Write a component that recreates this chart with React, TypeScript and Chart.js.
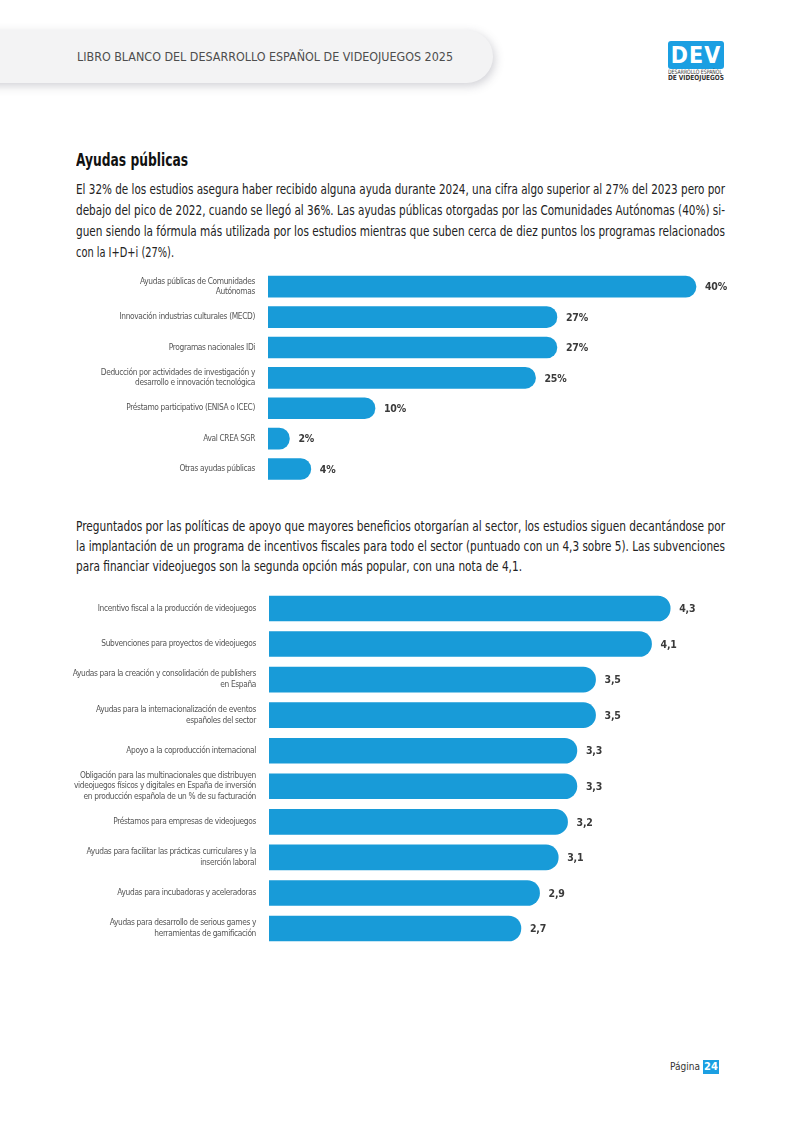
import React, { useEffect, useLayoutEffect, useRef } from "react";
import { Chart, registerables } from "chart.js";

Chart.register(...registerables);

const FONT = "'Liberation Sans Narrow', 'DejaVu Sans Condensed', Roboto, sans-serif";
const BAR_COLOR = "#189bd8";

// ---- Chart 1: Ayudas públicas recibidas (%) ----
const aidCategories: (string | string[])[] = [
  ["Ayudas públicas de Comunidades", "Autónomas"],
  "Innovación industrias culturales (MECD)",
  "Programas nacionales IDi",
  ["Deducción por actividades de investigación y", "desarrollo e innovación tecnológica"],
  "Préstamo participativo (ENISA o ICEC)",
  "Aval CREA SGR",
  "Otras ayudas públicas",
];
const aidValues = [40, 27, 27, 25, 10, 2, 4];

// ---- Chart 2: Políticas de apoyo (nota sobre 5) ----
const policyCategories: (string | string[])[] = [
  "Incentivo fiscal a la producción de videojuegos",
  "Subvenciones para proyectos de videojuegos",
  ["Ayudas para la creación y consolidación de publishers", "en España"],
  ["Ayudas para la internacionalización de eventos", "españoles del sector"],
  "Apoyo a la coproducción internacional",
  [
    "Obligación para las multinacionales que distribuyen",
    "videojuegos físicos y digitales en España de inversión",
    "en producción española de un % de su facturación",
  ],
  "Préstamos para empresas de videojuegos",
  ["Ayudas para facilitar las prácticas curriculares y la", "inserción laboral"],
  "Ayudas para incubadoras y aceleradoras",
  ["Ayudas para desarrollo de serious games y", "herramientas de gamificación"],
];
const policyScores = [4.3, 4.1, 3.5, 3.5, 3.3, 3.3, 3.2, 3.1, 2.9, 2.7];

const fmtPercent = (v: number) => `${v}%`;
const fmtScore = (v: number) => v.toFixed(1).replace(".", ",");

const condensePlugin = {
  id: "condense",
  beforeDraw(chart: any) {
    (chart.ctx as any).letterSpacing = "-0.35px";
  },
};

function makeValueLabelPlugin(fmt: (v: number) => string) {
  return {
    id: "valueLabels",
    afterDatasetsDraw(chart: any) {
      const ctx = chart.ctx;
      const meta = chart.getDatasetMeta(0);
      const data = chart.data.datasets[0].data as number[];
      ctx.save();
      (ctx as any).letterSpacing = "-0.2px";
      ctx.font = `bold 10.5px ${FONT}`;
      ctx.fillStyle = "#3a3a3a";
      ctx.textAlign = "left";
      ctx.textBaseline = "middle";
      meta.data.forEach((bar: any, i: number) => {
        ctx.fillText(fmt(data[i]), bar.x + 9, bar.y + 1);
      });
      ctx.restore();
    },
  };
}

type BarProps = {
  categories: (string | string[])[];
  values: number[];
  top: number;
  height: number;
  padTop: number;
  padBottom: number;
  axisWidth: number;
  max: number;
  padRight: number;
  thickness: number;
  fmt: (v: number) => string;
};

function HBarChart(p: BarProps) {
  const ref = useRef<HTMLCanvasElement>(null);
  useEffect(() => {
    if (!ref.current) return;
    const chart = new Chart(ref.current, {
      type: "bar",
      data: {
        labels: p.categories as any,
        datasets: [
          {
            data: p.values,
            backgroundColor: BAR_COLOR,
            barThickness: p.thickness,
            borderRadius: 100,
            borderSkipped: "start",
          },
        ],
      },
      options: {
        indexAxis: "y",
        responsive: false,
        animation: false,
        devicePixelRatio: 1,
        layout: { padding: { left: 0, right: p.padRight, top: p.padTop, bottom: p.padBottom } },
        plugins: { legend: { display: false }, tooltip: { enabled: false } },
        scales: {
          x: { display: false, min: 0, max: p.max },
          y: {
            grid: { display: false, drawTicks: false },
            border: { display: false },
            afterFit: (s: any) => {
              s.width = p.axisWidth;
              s.paddingTop = 0;
              s.paddingBottom = 0;
            },
            ticks: {
              padding: 13,
              color: "#555555",
              font: { family: FONT, size: 8.3, lineHeight: 1.28 },
              autoSkip: false,
            },
          },
        },
      },
      plugins: [condensePlugin, makeValueLabelPlugin(p.fmt)],
    });
    return () => chart.destroy();
  }, []);
  return (
    <div style={{ position: "absolute", left: 0, top: p.top, width: 800, height: p.height }}>
      <canvas ref={ref} width={800} height={p.height} style={{ display: "block" }} />
    </div>
  );
}

type FitProps = {
  x: number;
  y: number;
  w: number;
  size: number;
  weight?: number;
  color?: string;
  text: string;
};

function FitText({ x, y, w, size, weight = 400, color = "#222", text }: FitProps) {
  const ref = useRef<HTMLSpanElement>(null);
  useLayoutEffect(() => {
    const el = ref.current;
    if (!el) return;
    el.style.transform = "none";
    const nat = el.getBoundingClientRect().width;
    if (nat > 0) el.style.transform = `scaleX(${w / nat})`;
  });
  const lh = Math.round(size * 1.3);
  return (
    <span
      ref={ref}
      style={{
        position: "absolute",
        left: x,
        top: y - lh / 2,
        fontSize: size,
        lineHeight: `${lh}px`,
        whiteSpace: "nowrap",
        transformOrigin: "0 50%",
        fontFamily: FONT,
        fontWeight: weight,
        color,
      }}
    >
      {text}
    </span>
  );
}

const para1 = [
  "El 32% de los estudios asegura haber recibido alguna ayuda durante 2024, una cifra algo superior al 27% del 2023 pero por",
  "debajo del pico de 2022, cuando se llegó al 36%. Las ayudas públicas otorgadas por las Comunidades Autónomas (40%) si-",
  "guen siendo la fórmula más utilizada por los estudios mientras que suben cerca de diez puntos los programas relacionados",
  "con la I+D+i (27%).",
];
const para1Widths = [649, 649, 649, 98];
const para1Y = [189, 210, 231, 252];

const para2 = [
  "Preguntados por las políticas de apoyo que mayores beneficios otorgarían al sector, los estudios siguen decantándose por",
  "la implantación de un programa de incentivos fiscales para todo el sector (puntuado con un 4,3 sobre 5). Las subvenciones",
  "para financiar videojuegos son la segunda opción más popular, con una nota de 4,1.",
];
const para2Widths = [649, 649, 446];
const para2Y = [526, 546, 566];

export default function App() {
  return (
    <div
      style={{
        position: "absolute",
        left: 0,
        top: 0,
        width: 800,
        height: 1131,
        overflow: "hidden",
        background: "#ffffff",
      }}
    >
      {/* Header pill */}
      <div
        style={{
          position: "absolute",
          left: -40,
          top: 30,
          width: 533,
          height: 53,
          borderRadius: 27,
          background: "#f3f3f4",
          boxShadow: "2px 3px 10px rgba(70,70,90,0.25)",
        }}
      />
      <FitText
        x={77}
        y={56}
        w={376}
        size={13}
        color="#4d4d4d"
        text="LIBRO BLANCO DEL DESARROLLO ESPAÑOL DE VIDEOJUEGOS 2025"
      />

      {/* Logo */}
      <div
        style={{
          position: "absolute",
          left: 668,
          top: 41,
          width: 56,
          height: 28,
          borderRadius: 3,
          background: "#1b9fe2",
          color: "#fff",
          fontFamily: FONT,
          fontWeight: 700,
          fontSize: 23,
          lineHeight: "28px",
          textAlign: "center",
          letterSpacing: 1,
        }}
      >
        DEV
      </div>
      <FitText x={668} y={72} w={54} size={6} color="#333" text="DESARROLLO ESPAÑOL" />
      <FitText x={668} y={78} w={56} size={7} weight={700} color="#333" text="DE VIDEOJUEGOS" />

      {/* Title & paragraph 1 */}
      <FitText x={76} y={160} w={112} size={17} weight={700} color="#111" text="Ayudas públicas" />
      {para1.map((t, i) => (
        <FitText key={"p1" + i} x={76} y={para1Y[i]} w={para1Widths[i]} size={13.5} color="#222" text={t} />
      ))}

      <HBarChart
        categories={aidCategories}
        values={aidValues}
        top={262}
        height={230}
        padTop={9.5}
        padBottom={7.8}
        axisWidth={268}
        max={45}
        padRight={50.5}
        thickness={21}
        fmt={fmtPercent}
      />

      {para2.map((t, i) => (
        <FitText key={"p2" + i} x={76} y={para2Y[i]} w={para2Widths[i]} size={13.5} color="#222" text={t} />
      ))}

      <HBarChart
        categories={policyCategories}
        values={policyScores}
        top={580}
        height={380}
        padTop={10.7}
        padBottom={13.7}
        axisWidth={269}
        max={5}
        padRight={64.5}
        thickness={25}
        fmt={fmtScore}
      />

      {/* Page number */}
      <FitText x={670} y={1067} w={30} size={11} color="#333" text="Página" />
      <div
        style={{
          position: "absolute",
          left: 703,
          top: 1060,
          width: 16,
          height: 14,
          background: "#1b9fe2",
          color: "#fff",
          fontFamily: FONT,
          fontWeight: 700,
          fontSize: 11,
          lineHeight: "14px",
          textAlign: "center",
        }}
      >
        24
      </div>
    </div>
  );
}
